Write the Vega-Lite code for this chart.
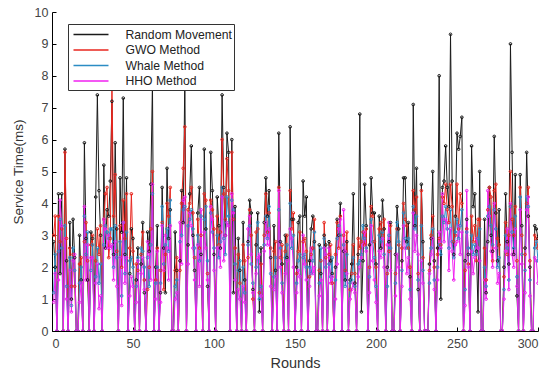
{
"$schema":"https://vega.github.io/schema/vega-lite/v6.json",
"width":486,"height":319,
"autosize":{"type":"none"},
"padding":{"left":52,"top":12,"right":11,"bottom":43},
"background":"white",
"config":{"view":{"stroke":null},"font":"Liberation Sans"},
"data":{"values":[
{"r":1,"R":2.8,"G":3.0,"W":1.2,"H":0.9},
{"r":2,"R":2.0,"G":3.6,"W":2.4,"H":1.8},
{"r":3,"R":0,"G":0,"W":0,"H":0},
{"r":4,"R":4.3,"G":3.6,"W":2.5,"H":1.6},
{"r":5,"R":1.8,"G":2.8,"W":3.5,"H":4.1},
{"r":6,"R":4.3,"G":3.2,"W":2.6,"H":3.3},
{"r":7,"R":0,"G":0,"W":0,"H":0},
{"r":8,"R":5.7,"G":5.6,"W":3.3,"H":2.9},
{"r":9,"R":2.2,"G":2.9,"W":1.4,"H":1.0},
{"r":10,"R":0,"G":0,"W":0,"H":0},
{"r":11,"R":3.4,"G":2.6,"W":2.3,"H":1.9},
{"r":12,"R":1.0,"G":1.4,"W":0.8,"H":0.6},
{"r":13,"R":3.5,"G":2.4,"W":2.6,"H":2.2},
{"r":14,"R":2.3,"G":1.4,"W":1.9,"H":2.4},
{"r":15,"R":0,"G":0,"W":0,"H":0},
{"r":16,"R":0,"G":0,"W":0,"H":0},
{"r":17,"R":3.0,"G":2.1,"W":1.5,"H":0.9},
{"r":18,"R":1.6,"G":2.3,"W":2.0,"H":1.5},
{"r":19,"R":0,"G":0,"W":0,"H":0},
{"r":20,"R":5.9,"G":2.8,"W":3.6,"H":3.9},
{"r":21,"R":2.9,"G":3.4,"W":2.4,"H":1.6},
{"r":22,"R":1.6,"G":2.2,"W":3.1,"H":2.7},
{"r":23,"R":0,"G":0,"W":0,"H":0},
{"r":24,"R":3.1,"G":2.7,"W":1.9,"H":2.3},
{"r":25,"R":2.9,"G":3.0,"W":2.7,"H":2.3},
{"r":26,"R":0,"G":0,"W":0,"H":0},
{"r":27,"R":4.2,"G":2.2,"W":1.7,"H":1.5},
{"r":28,"R":7.4,"G":3.2,"W":2.6,"H":2.1},
{"r":29,"R":4.4,"G":2.4,"W":1.5,"H":0.7},
{"r":30,"R":3.0,"G":3.3,"W":2.1,"H":1.1},
{"r":31,"R":0,"G":0,"W":0,"H":0},
{"r":32,"R":5.2,"G":3.5,"W":2.7,"H":3.5},
{"r":33,"R":2.6,"G":4.3,"W":3.3,"H":3.2},
{"r":34,"R":3.8,"G":4.5,"W":3.1,"H":2.6},
{"r":35,"R":3.6,"G":2.3,"W":2.9,"H":3.0},
{"r":36,"R":4.7,"G":2.9,"W":3.2,"H":2.6},
{"r":37,"R":7.2,"G":7.9,"W":3.2,"H":2.7},
{"r":38,"R":2.4,"G":3.6,"W":2.0,"H":1.6},
{"r":39,"R":5.9,"G":4.9,"W":3.3,"H":2.8},
{"r":40,"R":3.2,"G":2.5,"W":2.3,"H":1.4},
{"r":41,"R":0,"G":0,"W":0,"H":0},
{"r":42,"R":4.8,"G":3.3,"W":2.8,"H":2.3},
{"r":43,"R":3.1,"G":2.0,"W":1.1,"H":0.8},
{"r":44,"R":7.3,"G":4.1,"W":3.4,"H":3.4},
{"r":45,"R":2.4,"G":2.9,"W":1.8,"H":1.5},
{"r":46,"R":4.8,"G":4.3,"W":3.1,"H":2.3},
{"r":47,"R":0,"G":0,"W":0,"H":0},
{"r":48,"R":1.8,"G":2.6,"W":2.2,"H":1.1},
{"r":49,"R":3.2,"G":4.3,"W":2.3,"H":1.7},
{"r":50,"R":2.9,"G":2.5,"W":2.0,"H":1.4},
{"r":51,"R":0,"G":0,"W":0,"H":0},
{"r":52,"R":1.6,"G":2.1,"W":1.4,"H":0.9},
{"r":53,"R":2.6,"G":1.9,"W":2.3,"H":2.2},
{"r":54,"R":0,"G":0,"W":0,"H":0},
{"r":55,"R":2.1,"G":2.4,"W":2.6,"H":1.8},
{"r":56,"R":3.4,"G":3.1,"W":2.5,"H":2.3},
{"r":57,"R":1.2,"G":1.6,"W":2.0,"H":1.3},
{"r":58,"R":0,"G":0,"W":0,"H":0},
{"r":59,"R":3.1,"G":1.3,"W":2.3,"H":2.8},
{"r":60,"R":2.5,"G":2.0,"W":1.4,"H":2.4},
{"r":61,"R":4.6,"G":3.2,"W":2.7,"H":1.6},
{"r":62,"R":7.8,"G":5.0,"W":4.3,"H":4.6},
{"r":63,"R":0,"G":0,"W":0,"H":0},
{"r":64,"R":2.0,"G":1.6,"W":1.5,"H":1.0},
{"r":65,"R":3.3,"G":2.6,"W":2.0,"H":2.5},
{"r":66,"R":0,"G":0,"W":0,"H":0},
{"r":67,"R":1.2,"G":1.9,"W":1.5,"H":0.9},
{"r":68,"R":4.5,"G":3.4,"W":3.9,"H":3.3},
{"r":69,"R":2.6,"G":1.3,"W":2.1,"H":1.9},
{"r":70,"R":1.2,"G":2.4,"W":2.7,"H":3.0},
{"r":71,"R":5.1,"G":4.0,"W":3.2,"H":2.6},
{"r":72,"R":2.9,"G":3.6,"W":2.5,"H":1.6},
{"r":73,"R":3.8,"G":4.5,"W":4.1,"H":3.3},
{"r":74,"R":0,"G":0,"W":0,"H":0},
{"r":75,"R":0,"G":0,"W":0,"H":0},
{"r":76,"R":3.1,"G":1.9,"W":1.4,"H":1.0},
{"r":77,"R":1.9,"G":2.3,"W":1.6,"H":1.2},
{"r":78,"R":0,"G":0,"W":0,"H":0},
{"r":79,"R":2.2,"G":1.9,"W":2.8,"H":3.4},
{"r":80,"R":4.4,"G":4.0,"W":3.0,"H":2.1},
{"r":81,"R":3.4,"G":5.1,"W":3.8,"H":4.1},
{"r":82,"R":8.0,"G":6.4,"W":3.9,"H":4.2},
{"r":83,"R":0,"G":0,"W":0,"H":0},
{"r":84,"R":2.7,"G":3.8,"W":3.3,"H":2.1},
{"r":85,"R":4.3,"G":4.0,"W":3.5,"H":3.7},
{"r":86,"R":5.8,"G":4.5,"W":3.8,"H":3.3},
{"r":87,"R":3.0,"G":3.7,"W":3.2,"H":2.6},
{"r":88,"R":1.9,"G":2.3,"W":2.6,"H":1.6},
{"r":89,"R":0,"G":0,"W":0,"H":0},
{"r":90,"R":3.7,"G":3.5,"W":3.0,"H":2.7},
{"r":91,"R":4.5,"G":2.6,"W":2.2,"H":1.4},
{"r":92,"R":2.4,"G":3.0,"W":3.6,"H":3.8},
{"r":93,"R":0,"G":0,"W":0,"H":0},
{"r":94,"R":5.7,"G":4.3,"W":3.5,"H":3.1},
{"r":95,"R":3.2,"G":4.1,"W":3.9,"H":2.6},
{"r":96,"R":1.4,"G":1.8,"W":2.2,"H":1.6},
{"r":97,"R":0,"G":0,"W":0,"H":0},
{"r":98,"R":5.6,"G":4.1,"W":3.7,"H":3.9},
{"r":99,"R":4.4,"G":3.8,"W":3.1,"H":3.5},
{"r":100,"R":2.4,"G":3.2,"W":2.6,"H":1.9},
{"r":101,"R":0,"G":0,"W":0,"H":0},
{"r":102,"R":4.2,"G":3.6,"W":3.0,"H":2.6},
{"r":103,"R":3.3,"G":2.7,"W":2.3,"H":2.6},
{"r":104,"R":2.6,"G":3.1,"W":2.8,"H":2.0},
{"r":105,"R":7.4,"G":6.0,"W":4.5,"H":4.2},
{"r":106,"R":4.5,"G":4.3,"W":2.9,"H":2.2},
{"r":107,"R":3.0,"G":3.5,"W":2.4,"H":3.0},
{"r":108,"R":6.2,"G":5.4,"W":4.2,"H":3.4},
{"r":109,"R":5.6,"G":4.4,"W":3.6,"H":3.3},
{"r":110,"R":0,"G":0,"W":0,"H":0},
{"r":111,"R":6.0,"G":5.6,"W":4.1,"H":4.3},
{"r":112,"R":1.2,"G":3.5,"W":3.8,"H":3.7},
{"r":113,"R":3.9,"G":2.6,"W":2.1,"H":1.6},
{"r":114,"R":0,"G":0,"W":0,"H":0},
{"r":115,"R":2.9,"G":2.4,"W":1.9,"H":1.3},
{"r":116,"R":1.9,"G":1.5,"W":2.2,"H":1.0},
{"r":117,"R":0,"G":0,"W":0,"H":0},
{"r":118,"R":3.4,"G":2.7,"W":2.0,"H":1.4},
{"r":119,"R":1.6,"G":2.2,"W":1.2,"H":0.9},
{"r":120,"R":0,"G":0,"W":0,"H":0},
{"r":121,"R":2.8,"G":2.3,"W":2.7,"H":3.2},
{"r":122,"R":4.1,"G":3.8,"W":3.3,"H":3.6},
{"r":123,"R":3.7,"G":3.0,"W":2.1,"H":2.4},
{"r":124,"R":1.3,"G":1.0,"W":1.5,"H":1.2},
{"r":125,"R":0,"G":0,"W":0,"H":0},
{"r":126,"R":2.7,"G":3.1,"W":2.0,"H":1.8},
{"r":127,"R":3.7,"G":3.2,"W":3.4,"H":2.3},
{"r":128,"R":0.6,"G":1.2,"W":1.0,"H":2.4},
{"r":129,"R":2.6,"G":2.1,"W":1.4,"H":1.1},
{"r":130,"R":0,"G":0,"W":0,"H":0},
{"r":131,"R":3.4,"G":3.0,"W":2.7,"H":2.5},
{"r":132,"R":4.8,"G":4.3,"W":3.6,"H":3.4},
{"r":133,"R":3.6,"G":3.1,"W":2.9,"H":2.7},
{"r":134,"R":4.4,"G":3.7,"W":3.9,"H":3.2},
{"r":135,"R":2.3,"G":2.6,"W":1.8,"H":1.4},
{"r":136,"R":0,"G":0,"W":0,"H":0},
{"r":137,"R":3.3,"G":2.5,"W":1.7,"H":1.3},
{"r":138,"R":1.9,"G":2.8,"W":2.3,"H":1.7},
{"r":139,"R":0,"G":0,"W":0,"H":0},
{"r":140,"R":6.2,"G":4.5,"W":3.8,"H":4.4},
{"r":141,"R":2.8,"G":2.3,"W":2.6,"H":2.0},
{"r":142,"R":2.1,"G":2.7,"W":1.5,"H":1.2},
{"r":143,"R":0,"G":0,"W":0,"H":0},
{"r":144,"R":3.0,"G":2.5,"W":2.3,"H":1.8},
{"r":145,"R":2.3,"G":3.0,"W":2.7,"H":2.2},
{"r":146,"R":0,"G":0,"W":0,"H":0},
{"r":147,"R":6.4,"G":4.4,"W":4.0,"H":3.2},
{"r":148,"R":3.5,"G":3.2,"W":2.6,"H":2.9},
{"r":149,"R":3.5,"G":3.7,"W":3.0,"H":2.0},
{"r":150,"R":0,"G":0,"W":0,"H":0},
{"r":151,"R":2.0,"G":1.8,"W":1.5,"H":1.2},
{"r":152,"R":3.4,"G":2.5,"W":2.2,"H":1.9},
{"r":153,"R":3.6,"G":3.1,"W":2.4,"H":1.7},
{"r":154,"R":0,"G":0,"W":0,"H":0},
{"r":155,"R":4.7,"G":2.8,"W":2.3,"H":3.0},
{"r":156,"R":3.6,"G":2.9,"W":2.4,"H":2.1},
{"r":157,"R":4.2,"G":2.5,"W":2.0,"H":1.6},
{"r":158,"R":0,"G":0,"W":0,"H":0},
{"r":159,"R":2.2,"G":1.7,"W":2.0,"H":1.4},
{"r":160,"R":3.2,"G":2.4,"W":1.8,"H":2.6},
{"r":161,"R":3.6,"G":2.6,"W":2.2,"H":1.8},
{"r":162,"R":2.8,"G":3.5,"W":3.1,"H":2.0},
{"r":163,"R":0,"G":0,"W":0,"H":0},
{"r":164,"R":0,"G":0,"W":0,"H":0},
{"r":165,"R":2.7,"G":1.9,"W":1.5,"H":1.1},
{"r":166,"R":1.8,"G":2.2,"W":2.6,"H":1.6},
{"r":167,"R":0,"G":0,"W":0,"H":0},
{"r":168,"R":3.0,"G":3.4,"W":2.9,"H":2.6},
{"r":169,"R":2.7,"G":2.3,"W":2.0,"H":2.4},
{"r":170,"R":0,"G":0,"W":0,"H":0},
{"r":171,"R":2.8,"G":2.4,"W":2.1,"H":2.6},
{"r":172,"R":2.2,"G":2.7,"W":1.7,"H":1.5},
{"r":173,"R":1.8,"G":1.5,"W":2.3,"H":1.7},
{"r":174,"R":0,"G":0,"W":0,"H":0},
{"r":175,"R":2.0,"G":2.4,"W":1.6,"H":1.0},
{"r":176,"R":3.5,"G":3.4,"W":2.9,"H":2.1},
{"r":177,"R":3.0,"G":2.6,"W":3.3,"H":3.2},
{"r":178,"R":4.0,"G":3.6,"W":3.0,"H":3.5},
{"r":179,"R":0,"G":0,"W":0,"H":0},
{"r":180,"R":2.5,"G":3.0,"W":2.7,"H":3.8},
{"r":181,"R":1.6,"G":1.9,"W":1.4,"H":2.5},
{"r":182,"R":2.8,"G":3.1,"W":2.4,"H":1.8},
{"r":183,"R":0,"G":0,"W":0,"H":0},
{"r":184,"R":1.6,"G":1.3,"W":1.5,"H":1.0},
{"r":185,"R":2.1,"G":1.8,"W":1.6,"H":1.3},
{"r":186,"R":4.3,"G":2.7,"W":2.3,"H":1.5},
{"r":187,"R":1.5,"G":1.8,"W":1.4,"H":1.2},
{"r":188,"R":0,"G":0,"W":0,"H":0},
{"r":189,"R":2.4,"G":2.9,"W":2.1,"H":1.7},
{"r":190,"R":6.8,"G":2.6,"W":2.2,"H":2.0},
{"r":191,"R":0.6,"G":2.8,"W":2.4,"H":2.3},
{"r":192,"R":2.2,"G":3.1,"W":3.3,"H":2.7},
{"r":193,"R":4.6,"G":2.7,"W":2.9,"H":3.1},
{"r":194,"R":3.3,"G":3.2,"W":2.6,"H":2.5},
{"r":195,"R":0,"G":0,"W":0,"H":0},
{"r":196,"R":2.7,"G":2.0,"W":1.7,"H":1.2},
{"r":197,"R":4.8,"G":3.9,"W":3.5,"H":3.3},
{"r":198,"R":3.7,"G":3.6,"W":2.8,"H":2.2},
{"r":199,"R":3.7,"G":2.8,"W":2.3,"H":1.6},
{"r":200,"R":2.1,"G":2.0,"W":1.4,"H":0.9},
{"r":201,"R":0,"G":0,"W":0,"H":0},
{"r":202,"R":3.6,"G":3.2,"W":3.0,"H":2.5},
{"r":203,"R":2.6,"G":3.4,"W":2.8,"H":2.3},
{"r":204,"R":4.1,"G":3.0,"W":3.1,"H":2.9},
{"r":205,"R":3.2,"G":3.5,"W":2.4,"H":2.0},
{"r":206,"R":0,"G":0,"W":0,"H":0},
{"r":207,"R":2.0,"G":1.8,"W":1.4,"H":2.7},
{"r":208,"R":2.8,"G":2.5,"W":3.0,"H":3.4},
{"r":209,"R":3.4,"G":3.3,"W":2.6,"H":1.9},
{"r":210,"R":0,"G":0,"W":0,"H":0},
{"r":211,"R":0,"G":0,"W":0,"H":0},
{"r":212,"R":2.4,"G":1.8,"W":1.5,"H":1.1},
{"r":213,"R":3.9,"G":3.2,"W":3.4,"H":2.4},
{"r":214,"R":3.2,"G":2.7,"W":2.8,"H":2.0},
{"r":215,"R":0,"G":0,"W":0,"H":0},
{"r":216,"R":2.2,"G":2.6,"W":1.9,"H":1.4},
{"r":217,"R":4.8,"G":4.0,"W":3.7,"H":3.3},
{"r":218,"R":4.8,"G":3.5,"W":2.9,"H":2.6},
{"r":219,"R":2.8,"G":3.3,"W":2.6,"H":1.8},
{"r":220,"R":3.4,"G":2.6,"W":2.9,"H":2.3},
{"r":221,"R":1.7,"G":2.0,"W":1.3,"H":1.0},
{"r":222,"R":0,"G":0,"W":0,"H":0},
{"r":223,"R":7.1,"G":4.4,"W":3.9,"H":3.7},
{"r":224,"R":3.3,"G":3.8,"W":3.2,"H":2.5},
{"r":225,"R":5.1,"G":4.2,"W":3.6,"H":3.0},
{"r":226,"R":1.3,"G":1.8,"W":1.6,"H":2.4},
{"r":227,"R":0,"G":0,"W":0,"H":0},
{"r":228,"R":4.6,"G":4.4,"W":3.3,"H":2.2},
{"r":229,"R":2.8,"G":2.3,"W":1.9,"H":1.5},
{"r":230,"R":0,"G":0,"W":0,"H":0},
{"r":231,"R":0,"G":0,"W":0,"H":0},
{"r":232,"R":0,"G":0,"W":0,"H":0},
{"r":233,"R":2.1,"G":1.9,"W":1.5,"H":1.8},
{"r":234,"R":2.9,"G":3.0,"W":2.6,"H":2.4},
{"r":235,"R":5.0,"G":3.6,"W":3.2,"H":2.9},
{"r":236,"R":2.2,"G":2.0,"W":1.6,"H":1.3},
{"r":237,"R":0,"G":0,"W":0,"H":0},
{"r":238,"R":2.6,"G":2.4,"W":2.0,"H":1.6},
{"r":239,"R":8.0,"G":2.9,"W":2.7,"H":3.1},
{"r":240,"R":1.0,"G":2.7,"W":2.4,"H":2.6},
{"r":241,"R":4.5,"G":4.2,"W":3.6,"H":4.3},
{"r":242,"R":4.7,"G":4.0,"W":3.4,"H":2.8},
{"r":243,"R":5.8,"G":4.6,"W":3.9,"H":3.5},
{"r":244,"R":4.5,"G":3.8,"W":3.2,"H":3.4},
{"r":245,"R":3.9,"G":3.4,"W":2.6,"H":1.9},
{"r":246,"R":9.3,"G":4.6,"W":3.8,"H":3.2},
{"r":247,"R":4.7,"G":3.9,"W":2.8,"H":2.5},
{"r":248,"R":2.4,"G":2.8,"W":2.3,"H":1.6},
{"r":249,"R":3.6,"G":3.0,"W":3.1,"H":2.7},
{"r":250,"R":6.2,"G":4.6,"W":3.5,"H":2.8},
{"r":251,"R":5.7,"G":3.2,"W":2.9,"H":3.3},
{"r":252,"R":6.1,"G":4.3,"W":3.3,"H":2.4},
{"r":253,"R":6.7,"G":4.0,"W":3.8,"H":3.1},
{"r":254,"R":0,"G":0,"W":0,"H":0},
{"r":255,"R":2.2,"G":1.9,"W":1.3,"H":0.8},
{"r":256,"R":3.5,"G":3.2,"W":3.1,"H":4.4},
{"r":257,"R":2.4,"G":2.1,"W":2.6,"H":2.0},
{"r":258,"R":0,"G":0,"W":0,"H":0},
{"r":259,"R":5.8,"G":3.6,"W":3.0,"H":2.5},
{"r":260,"R":3.9,"G":2.8,"W":2.4,"H":1.8},
{"r":261,"R":4.3,"G":3.3,"W":2.7,"H":2.3},
{"r":262,"R":2.5,"G":2.2,"W":2.4,"H":2.9},
{"r":263,"R":0.6,"G":3.5,"W":2.9,"H":2.6},
{"r":264,"R":5.0,"G":3.5,"W":3.2,"H":2.2},
{"r":265,"R":0,"G":0,"W":0,"H":0},
{"r":266,"R":0,"G":0,"W":0,"H":0},
{"r":267,"R":3.5,"G":2.6,"W":2.0,"H":1.6},
{"r":268,"R":1.2,"G":1.6,"W":1.4,"H":1.0},
{"r":269,"R":2.8,"G":3.8,"W":3.6,"H":4.4},
{"r":270,"R":4.5,"G":4.5,"W":3.9,"H":3.6},
{"r":271,"R":3.0,"G":4.2,"W":3.3,"H":2.5},
{"r":272,"R":2.5,"G":2.2,"W":2.7,"H":2.0},
{"r":273,"R":6.1,"G":4.4,"W":3.8,"H":4.0},
{"r":274,"R":3.7,"G":4.6,"W":3.2,"H":2.6},
{"r":275,"R":2.2,"G":2.9,"W":2.0,"H":1.5},
{"r":276,"R":3.8,"G":2.7,"W":2.3,"H":1.8},
{"r":277,"R":0,"G":0,"W":0,"H":0},
{"r":278,"R":0,"G":0,"W":0,"H":0},
{"r":279,"R":2.0,"G":1.7,"W":1.3,"H":1.0},
{"r":280,"R":4.3,"G":3.4,"W":3.0,"H":2.5},
{"r":281,"R":2.8,"G":2.4,"W":2.6,"H":3.2},
{"r":282,"R":2.1,"G":3.0,"W":1.6,"H":1.3},
{"r":283,"R":9.0,"G":5.0,"W":3.9,"H":4.0},
{"r":284,"R":5.6,"G":3.5,"W":3.1,"H":2.4},
{"r":285,"R":2.4,"G":3.0,"W":2.6,"H":2.0},
{"r":286,"R":4.9,"G":3.9,"W":3.6,"H":3.2},
{"r":287,"R":1.1,"G":2.2,"W":1.7,"H":1.4},
{"r":288,"R":0,"G":0,"W":0,"H":0},
{"r":289,"R":4.9,"G":4.5,"W":4.2,"H":3.8},
{"r":290,"R":3.3,"G":3.0,"W":2.4,"H":2.1},
{"r":291,"R":0,"G":0,"W":0,"H":0},
{"r":292,"R":2.6,"G":2.4,"W":1.9,"H":1.2},
{"r":293,"R":5.6,"G":4.0,"W":4.2,"H":3.8},
{"r":294,"R":3.6,"G":4.5,"W":3.9,"H":4.2},
{"r":295,"R":2.0,"G":2.2,"W":1.6,"H":1.1},
{"r":296,"R":0,"G":0,"W":0,"H":0},
{"r":297,"R":0,"G":0,"W":0,"H":0},
{"r":298,"R":3.3,"G":3.0,"W":2.6,"H":2.3},
{"r":299,"R":3.2,"G":2.9,"W":2.8,"H":2.2},
{"r":300,"R":2.9,"G":2.6,"W":2.2,"H":1.5}
]},
"transform":[{"fold":["R","G","W","H"],"as":["series","value"]}],
"mark":{"type":"line","strokeWidth":1,"clip":true,"point":{"filled":false,"size":7,"strokeWidth":1}},
"encoding":{
"x":{"field":"r","type":"quantitative","scale":{"domain":[0,300],"nice":false,"zero":false},
"axis":{"title":"Rounds","values":[0,50,100,150,200,250,300],"grid":false,"domainColor":"#000","tickColor":"#000","tickSize":-4,"labelPadding":10,"labelFontSize":12.5,"labelColor":"#444","titleFontSize":14.5,"titleFontWeight":"normal","titleColor":"#333","titlePadding":7,"labelFont":"Liberation Sans","titleFont":"Liberation Sans"}},
"y":{"field":"value","type":"quantitative","scale":{"domain":[0,10],"nice":false},
"axis":{"title":"Service Time(ms)","values":[0,1,2,3,4,5,6,7,8,9,10],"grid":false,"domainColor":"#000","tickColor":"#000","tickSize":-4,"labelPadding":8,"labelFontSize":12.5,"labelColor":"#444","titleFontSize":13.5,"titleFontWeight":"normal","titleColor":"#333","titlePadding":9,"labelFont":"Liberation Sans","titleFont":"Liberation Sans"}},
"color":{"field":"series","type":"nominal","scale":{"domain":["R","G","W","H"],"range":["#1a1a1a","#e8261e","#2b8cc4","#f020f0"]},
"legend":{"title":null,"orient":"none","legendX":16,"legendY":12,"symbolType":"M-2.333,0H2.333","symbolSize":225,"symbolOffset":12.5,"symbolStrokeWidth":1.3,"labelOffset":26,"labelFontSize":12.2,"labelColor":"#222","labelFont":"Liberation Sans","strokeColor":"#333","fillColor":"white","padding":2,"rowPadding":0.5,"labelExpr":"{'R':'Random Movement','G':'GWO Method','W':'Whale Method','H':'HHO Method'}[datum.label]"}}
}
}
